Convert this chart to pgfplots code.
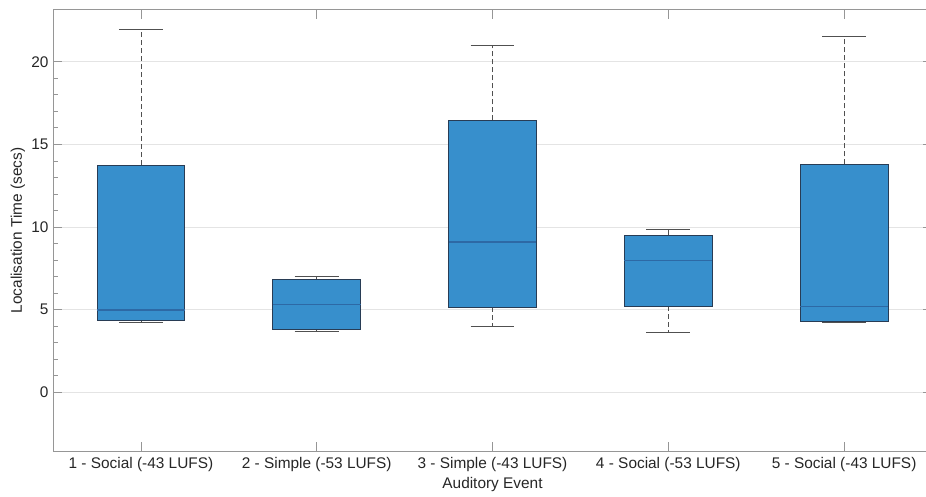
\documentclass[border=0pt]{standalone}
\usepackage{fontspec}
\setmainfont{Liberation Sans}
\usepackage{pgfplots}
\pgfplotsset{compat=1.18}
\usepgfplotslibrary{statistics}

\definecolor{boxblue}{RGB}{55,143,204}
\definecolor{boxedge}{RGB}{40,60,85}
\definecolor{medblue}{RGB}{45,105,165}
\definecolor{axisgray}{RGB}{150,150,150}
\definecolor{textgray}{RGB}{38,38,38}
\definecolor{gridgray}{RGB}{228,228,228}
\definecolor{whiskgray}{RGB}{80,80,80}

\pgfplotsset{
  boxplot/draw/lower whisker/.code={%
    \draw[whiskgray, line width=0.8pt, dash pattern=on 5pt off 3pt]
      (boxplot box cs:\pgfplotsboxplotvalue{lower quartile},0.5) --
      (boxplot box cs:\pgfplotsboxplotvalue{lower whisker},0.5);
    \draw[whiskgray, line width=0.9pt]
      (boxplot whisker cs:\pgfplotsboxplotvalue{lower whisker},0) --
      (boxplot whisker cs:\pgfplotsboxplotvalue{lower whisker},1);
  },
  boxplot/draw/upper whisker/.code={%
    \draw[whiskgray, line width=0.8pt, dash pattern=on 5pt off 3pt]
      (boxplot box cs:\pgfplotsboxplotvalue{upper quartile},0.5) --
      (boxplot box cs:\pgfplotsboxplotvalue{upper whisker},0.5);
    \draw[whiskgray, line width=0.9pt]
      (boxplot whisker cs:\pgfplotsboxplotvalue{upper whisker},0) --
      (boxplot whisker cs:\pgfplotsboxplotvalue{upper whisker},1);
  },
  lufsbox/.style={
    boxplot/draw direction=y,
    boxplot/box extend=0.5,
    boxplot/whisker extend=0.25,
    boxplot/every box/.style={draw=boxedge, fill=boxblue, line width=0.9pt},
    boxplot/every median/.style={draw=medblue, line width=1.2pt},
  },
}

\begin{document}
\begin{tikzpicture}
% page ends just inside the right-hand spine
\useasboundingbox (-53pt,-45pt) rectangle (873pt,451pt);
\begin{axis}[
  at={(0,0)}, anchor=south west,
  scale only axis,
  width=879pt, height=441pt,
  xmin=0.5, xmax=5.5,
  ymin=-3.55, ymax=23.13,
  xtick={1,2,3,4,5},
  xticklabels={1 - Social (-43 LUFS), 2 - Simple (-53 LUFS), 3 - Simple (-43 LUFS), 4 - Social (-53 LUFS), 5 - Social (-43 LUFS)},
  ytick={0,5,10,15,20},
  minor y tick num=4,
  tick align=inside,
  major tick length=9pt,
  minor tick length=4.5pt,
  ymajorgrids,
  grid style={gridgray, line width=0.8pt},
  axis line style={axisgray, line width=1pt},
  tick style={axisgray, line width=0.8pt},
  /pgf/number format/assume math mode=true,
  font=\fontsize{15.4}{18}\selectfont,
  every tick label/.append style={textgray, font=\fontsize{15.4}{18}\selectfont},
  xticklabel style={anchor=center, yshift=-14pt},
  yticklabel style={anchor=east, xshift=-1pt},
  every axis x label/.style={at={(axis description cs:0.5,0)}, anchor=center, yshift=-34pt, textgray},
  every axis y label/.style={at={(axis description cs:0,0.5)}, anchor=center, xshift=-35pt, rotate=90, textgray},
  xlabel={Auditory Event},
  ylabel={Localisation Time (secs)},
]
% 1 - Social (-43 LUFS)
\addplot[lufsbox, boxplot prepared={draw position=1,
  lower whisker=4.23, lower quartile=4.37, median=4.98,
  upper quartile=13.75, upper whisker=21.96}] coordinates {};
% 2 - Simple (-53 LUFS)
\addplot[lufsbox, boxplot prepared={draw position=2,
  lower whisker=3.71, lower quartile=3.81, median=5.32,
  upper quartile=6.84, upper whisker=6.99}] coordinates {};
% 3 - Simple (-43 LUFS)
\addplot[lufsbox, boxplot prepared={draw position=3,
  lower whisker=4.01, lower quartile=5.14, median=9.09,
  upper quartile=16.45, upper whisker=21.0}] coordinates {};
% 4 - Social (-53 LUFS)
\addplot[lufsbox, boxplot prepared={draw position=4,
  lower whisker=3.65, lower quartile=5.20, median=7.96,
  upper quartile=9.50, upper whisker=9.88}] coordinates {};
% 5 - Social (-43 LUFS)
\addplot[lufsbox, boxplot prepared={draw position=5,
  lower whisker=4.25, lower quartile=4.27, median=5.20,
  upper quartile=13.79, upper whisker=21.55}] coordinates {};
\end{axis}
\end{tikzpicture}
\end{document}
